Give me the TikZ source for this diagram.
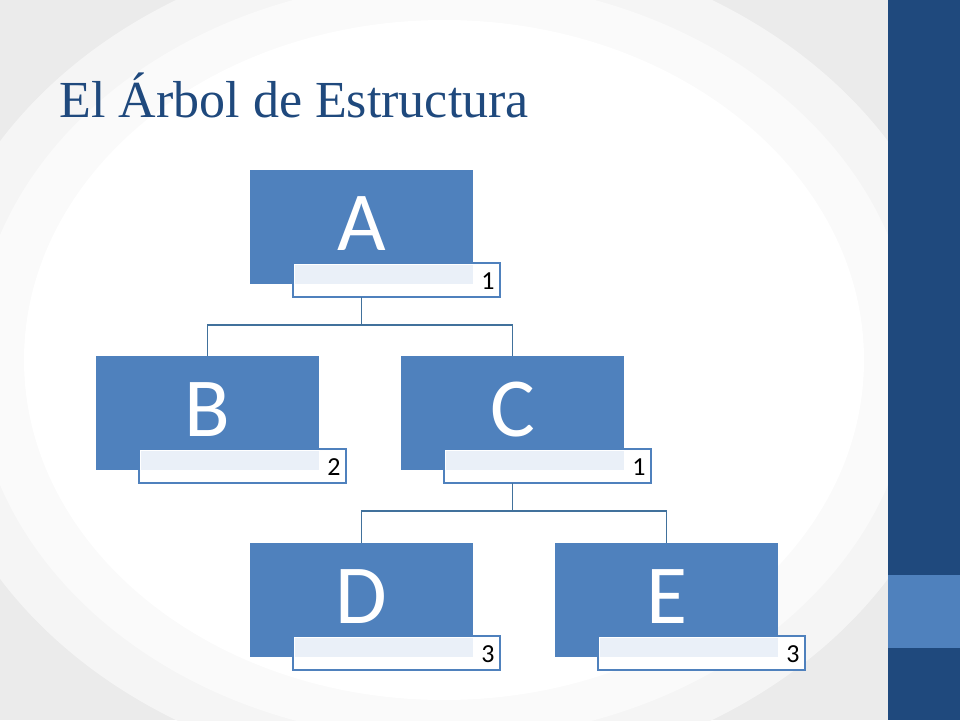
\documentclass[tikz,border=0pt]{standalone}
\usepackage{fontspec}
\setmainfont{Liberation Serif}
\newfontfamily\boxfont{Carlito}
\begin{document}
\begin{tikzpicture}[x=1pt,y=-1pt,
  lbl/.style={fill=white,draw=boxblue,line width=1.5pt},
  conn/.style={draw=lineblue,line width=1.5pt},
  letter/.style={text=white,font=\boxfont\fontsize{84}{84}\selectfont},
  num/.style={font=\boxfont\fontsize{26}{26}\selectfont,anchor=east}]
\definecolor{boxblue}{HTML}{4F81BD}
\definecolor{lightfill}{HTML}{EAF0F8}
\definecolor{lineblue}{HTML}{41719C}
\definecolor{darkbar}{HTML}{1F497D}
\definecolor{titlec}{HTML}{1F497D}
\useasboundingbox (0,0) rectangle (960,720);
\fill[black!8] (0,0) rectangle (888,720);
\fill[black!4] (444,360) ellipse (520 and 420);
\fill[black!2] (444,360) ellipse (470 and 380);
\fill[white] (444,360) ellipse (420 and 340);
\fill[darkbar] (888,0) rectangle (960,720);
\fill[boxblue] (888,575) rectangle (960,648);
\node[anchor=west,text=titlec,font=\fontsize{52}{52}\selectfont] (title) at (56,95) {El Árbol de Estructura};
\foreach \n/\t/\x/\y/\v in {a/A/250/170/1,b/B/96/356/2,c/C/401/356/1,d/D/250/543/3,e/E/555/543/3}{
  \fill[boxblue] (\x,\y) rectangle ++(223,114);
  \node[letter] (\n) at (\x+111.5,\y+54) {\t};
  \draw[lbl] (\x+43,\y+93) rectangle ++(207,34);
  \fill[lightfill] (\x+45,\y+95) rectangle (\x+223,\y+114);
  \coordinate (\n-top) at (\x+111.5,\y);
  \coordinate (\n-bot) at (\x+111.5,\y+127);
  \node[num] (\n-num) at (\x+248,\y+111) {\v};
}
\draw[conn] (a-bot) -- ++(0,28) -| (b-top);
\draw[conn] (a-bot) ++(0,28) -| (c-top);
\draw[conn] (c-bot) -- ++(0,28) -| (d-top);
\draw[conn] (c-bot) ++(0,28) -| (e-top);
\end{tikzpicture}
\end{document}
